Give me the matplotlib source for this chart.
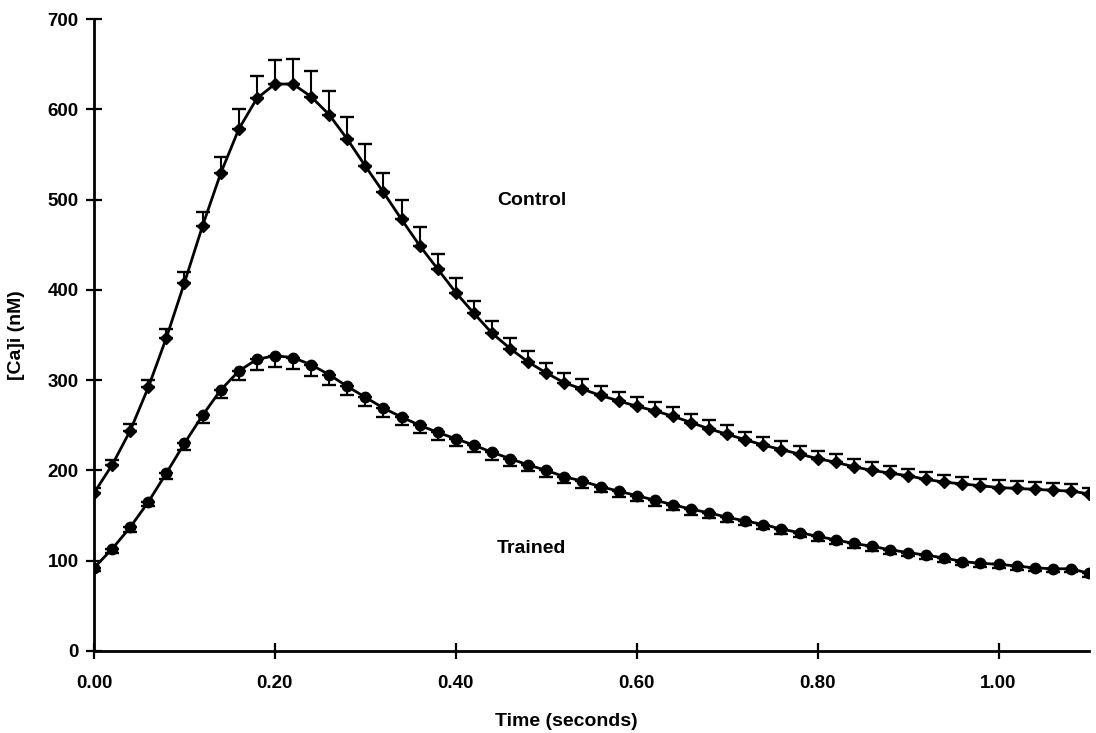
import numpy as np
import matplotlib.pyplot as plt

plt.rcParams["font.family"] = ["Liberation Sans", "DejaVu Sans"]
plt.rcParams["font.weight"] = "bold"

# Time points (s), sampled every 20 ms
tiempo = np.round(np.arange(0, 56) * 0.02, 2)

control = [175, 206, 244, 292, 347, 408, 471, 529, 578, 612,
           628, 628, 614, 594, 567, 537, 508, 478, 449, 423,
           397, 374, 352, 335, 320, 308, 297, 290, 283, 277,
           271, 266, 260, 253, 246, 240, 234, 228, 223, 218,
           213, 209, 204, 200, 197, 194, 190, 187, 185, 183,
           181, 180, 179, 178, 177, 174]
control_err = [5, 6, 7, 8, 10, 12, 15, 18, 22, 25,
               27, 28, 29, 26, 25, 25, 22, 22, 21, 17,
               16, 14, 13, 12, 12, 11, 11, 11, 10, 10,
               10, 10, 10, 10, 10, 10, 9, 9, 9, 9,
               9, 9, 9, 9, 8, 8, 8, 8, 8, 8,
               8, 8, 8, 8, 8, 7]

entrenado = [92, 113, 137, 165, 197, 230, 261, 289, 310, 323,
             327, 325, 317, 306, 293, 281, 269, 259, 250, 242,
             235, 228, 220, 213, 206, 200, 193, 188, 182, 177,
             172, 167, 162, 157, 153, 148, 144, 140, 135, 131,
             127, 123, 119, 116, 112, 109, 106, 103, 99, 97,
             96, 94, 92, 91, 91, 86]
entrenado_err = [4, 4, 5, 5, 6, 7, 8, 9, 10, 12,
                 13, 13, 12, 11, 10, 10, 10, 9, 9, 8,
                 8, 8, 8, 8, 7, 7, 7, 7, 6, 6,
                 6, 6, 6, 6, 6, 5, 5, 5, 5, 5,
                 5, 5, 5, 5, 5, 4, 4, 4, 4, 4,
                 4, 4, 4, 4, 4, 4]

fig = plt.figure(figsize=(10.96, 7.33), dpi=100)
ax = fig.add_axes([0.0858, 0.112, 0.9078, 0.862])

ax.errorbar(tiempo, control, yerr=[np.zeros(len(control)), control_err],
            fmt="none", ecolor="black", elinewidth=1.5, capsize=5, capthick=1.7)
ax.plot(tiempo, control, color="black", lw=2, marker="D", ms=6,
        markerfacecolor="black", markeredgecolor="black")

ax.errorbar(tiempo, entrenado, yerr=[entrenado_err, np.zeros(len(entrenado))],
            fmt="none", ecolor="black", elinewidth=1.5, capsize=5, capthick=1.7)
ax.plot(tiempo, entrenado, color="black", lw=2, marker="o", ms=7.5,
        markerfacecolor="black", markeredgecolor="black")

ax.text(0.484, 499, "Control", ha="center", va="center", fontsize=14, fontweight="bold")
ax.text(0.484, 113, "Trained", ha="center", va="center", fontsize=14, fontweight="bold")

ax.set_xlim(0, 1.10)
ax.set_ylim(0, 700)
ax.set_xticks([0, 0.2, 0.4, 0.6, 0.8, 1.0])
ax.set_xticklabels(["0.00", "0.20", "0.40", "0.60", "0.80", "1.00"])
ax.set_yticks(range(0, 701, 100))

for lado in ["top", "right"]:
    ax.spines[lado].set_visible(False)
for lado in ["left", "bottom"]:
    ax.spines[lado].set_linewidth(2)

ax.tick_params(axis="both", direction="inout", length=12, width=1.6,
               labelsize=13.5, pad=5)
ax.tick_params(axis="x", pad=11)

ax.set_xlabel("Time (seconds)", fontsize=14, fontweight="bold")
ax.set_ylabel("[Ca]i (nM)", fontsize=14, fontweight="bold")
ax.xaxis.set_label_coords(0.475, -0.098)
ax.yaxis.set_label_coords(-0.069, 0.5)

fig.savefig("out.png", dpi=100)
